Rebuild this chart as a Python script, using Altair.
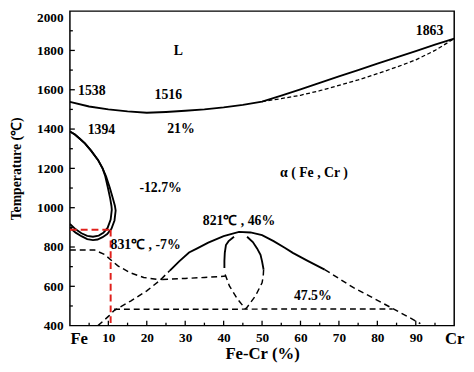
import altair as alt
import pandas as pd

# ---- phase boundary data (Cr %, temperature °C) ----
liq_x = [0, 5, 10, 15, 20, 25, 30, 35, 40, 45, 50, 55, 60, 65, 70, 75, 80, 85, 90, 95, 100]
liq_t = [1538, 1515, 1500, 1490, 1483, 1487, 1493, 1500, 1510, 1523, 1540, 1570, 1602, 1635, 1668, 1700, 1733, 1765, 1797, 1829, 1860]

sol_x = [50, 55, 60, 65, 70, 75, 80, 85, 90, 95, 100]
sol_t = [1540, 1555, 1572, 1595, 1622, 1650, 1682, 1715, 1752, 1800, 1860]

gout_x = [0, 1.3, 2.5, 3.9, 5.5, 7.3, 8.5, 9.4, 10.4, 11.2, 11.7, 11.9, 11.6, 10.8, 9.7, 8.5, 7.2, 6.0, 4.5, 3.0, 1.5, 0]
gout_t = [1388, 1372, 1352, 1327, 1290, 1243, 1200, 1160, 1100, 1045, 1010, 985, 935, 893, 866, 850, 838, 835, 840, 855, 873, 898]

gin_x = [0, 1.3, 2.5, 3.9, 5.5, 7.3, 8.5, 9.2, 9.9, 10.5, 10.8, 10.9, 10.6, 9.8, 8.7, 7.5, 6.0, 4.5, 3.0, 1.5, 0]
gin_t = [1388, 1372, 1352, 1327, 1290, 1243, 1200, 1160, 1100, 1045, 1010, 990, 940, 897, 872, 858, 852, 857, 870, 890, 917]

curie_x = [0, 3, 6.4, 9, 12.4, 15.8, 19.2, 22.6, 24]
curie_t = [785, 785, 785, 762, 705, 668, 645, 636, 635]

midh_x = [24, 30, 35, 40.6]
midh_t = [635, 640, 645, 652]

rise_x = [7.3, 10.3, 11.5, 15.8, 20, 23.4, 26]
rise_t = [400, 452, 477, 525, 577, 630, 680]

env_x = [26, 28.5, 31, 33, 36, 40, 44, 47, 50, 53, 56, 58, 62, 66.3]
env_t = [680, 728, 772, 792, 822, 855, 877, 874, 860, 830, 795, 770, 728, 685]

envd_x = [66.3, 70, 73.8, 78, 84, 88, 91.2]
envd_t = [685, 640, 593, 550, 487, 445, 410]

sls_x = [42.7, 41.3, 40.6, 40.3, 40.2, 40.2]
sls_t = [852, 830, 810, 770, 730, 693]

sld_x = [40.4, 41.5, 43.6, 45.7]
sld_t = [660, 602, 535, 485]

srs_x = [46.1, 47.6, 48.7, 49.6, 50, 50.4]
srs_t = [852, 825, 793, 760, 727, 685]

srd_x = [50.4, 50.3, 50, 48.3, 46.1, 45.7]
srd_t = [685, 650, 618, 552, 493, 485]

bot_x = [11.5, 84]
bot_t = [483, 485]

redh_x = [0, 10.6]
redh_t = [888, 888]
redv_x = [10.6, 10.6]
redv_t = [888, 400]

# ---- annotation labels ----
lab_x = [28.2, 5.7, 25.6, 28.9, 8.2, 23.6, 63.5, 93.6, 44.0, 19.7, 63.2]
lab_t = [1795, 1595, 1575, 1400, 1395, 1100, 1175, 1900, 930, 810, 550]
lab_s = ["L", "1538", "1516", "21%", "1394", "-12.7%", "α ( Fe , Cr )", "1863",
         "821℃ , 46%", "831℃ , -7%", "47.5%"]

# ---- axis ticks ----
xmaj = [10, 20, 30, 40, 50, 60, 70, 80, 90]
xmin = [5, 15, 25, 35, 45, 55, 65, 75, 85, 95]
ymaj = [600, 800, 1000, 1200, 1400, 1600, 1800]
ymin = [500, 700, 900, 1100, 1300, 1500, 1700, 1900]
xlab_vals = [0, 10, 20, 30, 40, 50, 60, 70, 80, 90, 100]
ylab_vals = [400, 600, 800, 1000, 1200, 1400, 1600, 1800, 2000]

FONT = "Liberation Serif"
W, H = 391, 320


def seg(name, xs, ts):
    return pd.DataFrame({"x": xs, "t": ts, "seg": name, "i": list(range(len(xs)))})


solid_df = pd.concat([
    seg("liq", liq_x, liq_t), seg("gout", gout_x, gout_t), seg("gin", gin_x, gin_t),
    seg("env", env_x, env_t), seg("sls", sls_x, sls_t), seg("srs", srs_x, srs_t),
])
dash_df = pd.concat([
    seg("curie", curie_x, curie_t), seg("midh", midh_x, midh_t), seg("rise", rise_x, rise_t),
    seg("envd", envd_x, envd_t), seg("sld", sld_x, sld_t), seg("srd", srd_x, srd_t),
    seg("bot", bot_x, bot_t),
])
fine_df = seg("sol", sol_x, sol_t)
red_df = pd.concat([seg("rh", redh_x, redh_t), seg("rv", redv_x, redv_t)])

xscale = alt.Scale(domain=[0, 100], nice=False, zero=False)
yscale = alt.Scale(domain=[400, 2000], nice=False, zero=False)

xaxis = alt.Axis(
    values=xlab_vals, ticks=False, domain=False, grid=False, format="d",
    labelExpr="datum.value == 0 ? 'Fe' : datum.value == 100 ? 'Cr' : datum.label",
    labelFont=FONT, labelFontWeight="bold", labelColor="black",
    labelFontSize={"condition": {"test": "datum.value == 0 || datum.value == 100", "value": 17}, "value": 13.5},
    labelAlign={"condition": {"test": "datum.value == 0", "value": "left"}, "value": "center"},
    labelFlush=False, labelPadding=5,
    title="Fe-Cr (%)", titleFont=FONT, titleFontWeight="bold", titleFontSize=17, titleColor="black",
    titleX=W / 2, titleY=28, titleBaseline="middle", titleAlign="center",
)
yaxis = alt.Axis(
    values=ylab_vals, ticks=False, domain=False, grid=False, format="d",
    labelFont=FONT, labelFontWeight="bold", labelColor="black", labelFontSize=13.5,
    labelBaseline={"condition": {"test": "datum.value == 2000", "value": "top"}, "value": "middle"},
    labelPadding=7, labelFlush=False,
    title="Temperature (℃)", titleFont=FONT, titleFontWeight="bold", titleFontSize=14, titleColor="black",
    titleX=-54, titleY=H / 2, titleAngle=-90, titleBaseline="middle", titleAlign="center",
)


def X(field="x"):
    return alt.X(f"{field}:Q", scale=xscale, axis=xaxis)


def Y(field="t"):
    return alt.Y(f"{field}:Q", scale=yscale, axis=yaxis)


def lines(df, color, width, dash=None):
    kw = dict(color=color, strokeWidth=width, clip=True, strokeCap="butt")
    if dash:
        kw["strokeDash"] = dash
    return alt.Chart(df).mark_line(**kw).encode(
        x=X(), y=Y(), detail="seg:N", order="i:Q")


solid = lines(solid_df, "black", 1.9)
dashed = lines(dash_df, "black", 1.5, [6, 4])
fine = lines(fine_df, "black", 1.3, [4, 2.5])
red = lines(red_df, "#e0201b", 2.0, [7, 4])

xt_maj = alt.Chart(pd.DataFrame({"x": xmaj})).mark_rule(color="black", strokeWidth=1.3).encode(
    x=X(), y=alt.value(H), y2=alt.value(H - 5))
xt_min = alt.Chart(pd.DataFrame({"x": xmin})).mark_rule(color="black", strokeWidth=1.3).encode(
    x=X(), y=alt.value(H), y2=alt.value(H - 3))
yt_maj = alt.Chart(pd.DataFrame({"t": ymaj})).mark_rule(color="black", strokeWidth=1.3).encode(
    y=Y(), x=alt.value(0), x2=alt.value(5))
yt_min = alt.Chart(pd.DataFrame({"t": ymin})).mark_rule(color="black", strokeWidth=1.3).encode(
    y=Y(), x=alt.value(0), x2=alt.value(3))

labels = alt.Chart(pd.DataFrame({"x": lab_x, "t": lab_t, "s": lab_s})).mark_text(
    font=FONT, fontWeight="bold", fontSize=14, color="black", align="center", baseline="middle"
).encode(x=X(), y=Y(), text="s:N")

chart = alt.layer(
    solid, fine, dashed, red, xt_maj, xt_min, yt_maj, yt_min, labels
).properties(
    width=W, height=H,
    autosize=alt.AutoSizeParams(type="none"),
    padding={"left": 63, "top": 0, "right": 12, "bottom": 44},
    background="white",
).configure_view(stroke="black", strokeWidth=1.5)

chart.save("out.html", embed_options={"renderer": "svg", "actions": False})
